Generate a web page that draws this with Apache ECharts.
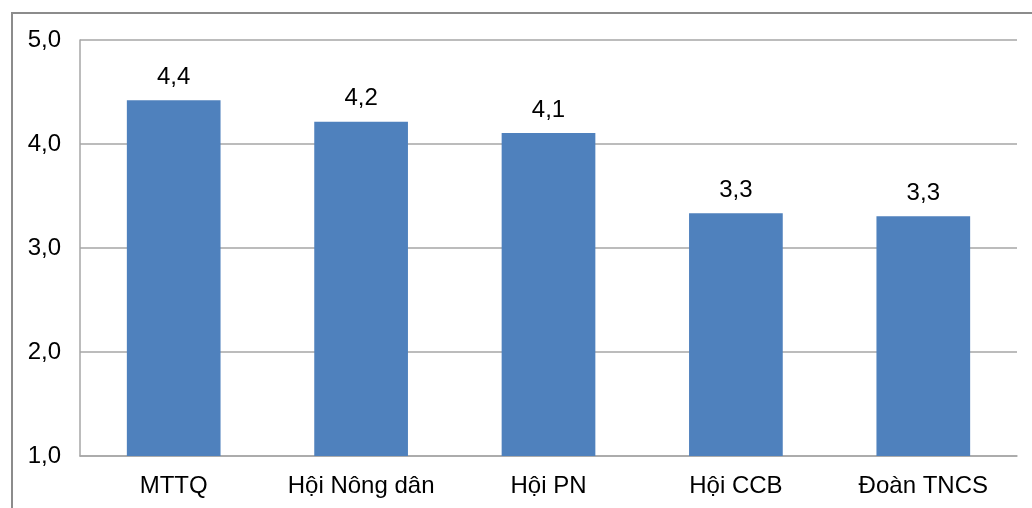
<!DOCTYPE html>
<html>
<head>
<meta charset="utf-8">
<script src="https://cdn.jsdelivr.net/npm/echarts@6/dist/echarts.min.js"></script>
<style>html,body{margin:0;padding:0;background:#fff}#c{width:1032px;height:508px}</style>
</head>
<body>
<div id="c"></div>
<script>
const categories = ['MTTQ', 'Hội Nông dân', 'Hội PN', 'Hội CCB', 'Đoàn TNCS'];
const values = [4.42, 4.215, 4.105, 3.335, 3.305];
const yMin = 1, yMax = 5, yStep = 1;

const fmt = v => v.toFixed(1).replace('.', ',');
const FONT = 'Liberation Sans, Arial';
const chart = echarts.init(document.getElementById('c'), null, {renderer: 'canvas'});
chart.setOption({
  animation: false,
  backgroundColor: '#fff',
  graphic: [{
    type: 'rect', left: 9.5, top: 10.5, shape: {width: 1040, height: 520},
    style: {fill: 'none', stroke: '#8c8c8c', lineWidth: 2}, silent: true
  }],
  grid: {left: 80, top: 40, right: 15, bottom: 52},
  xAxis: {
    type: 'category', data: categories,
    axisLine: {lineStyle: {color: '#a6a6a6', width: 1.5}},
    axisTick: {show: false},
    axisLabel: {color: '#000', fontFamily: FONT, fontSize: 24, margin: 18, interval: 0, hideOverlap: false}
  },
  yAxis: {
    type: 'value', min: yMin, max: yMax, interval: yStep,
    axisLine: {show: true, lineStyle: {color: '#a6a6a6', width: 1.5}},
    axisTick: {show: false},
    splitLine: {lineStyle: {color: '#a6a6a6', width: 1.5}},
    axisLabel: {color: '#000', fontFamily: FONT, fontSize: 24, margin: 19, formatter: fmt}
  },
  series: [{
    type: 'bar', data: values, barWidth: '50%',
    itemStyle: {color: '#4F81BD'},
    label: {show: true, position: 'top', distance: 11, color: '#000',
      fontFamily: FONT, fontSize: 24, formatter: p => fmt(p.value)}
  }]
});
</script>
</body>
</html>
